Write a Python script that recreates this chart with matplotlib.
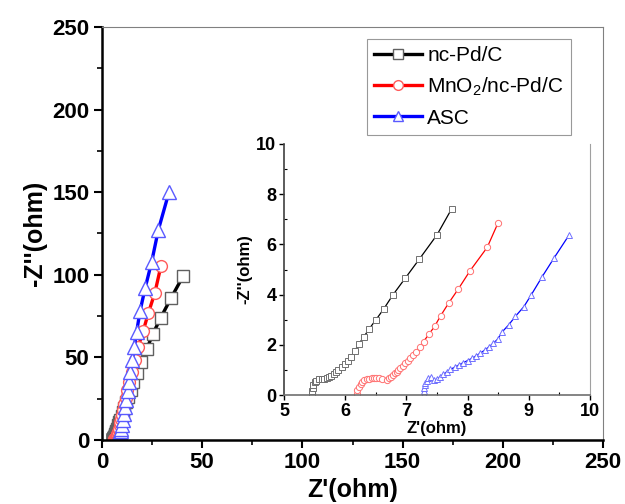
import matplotlib
matplotlib.use("Agg")
import matplotlib.pyplot as plt
import numpy as np

plt.rcParams['font.family'] = ['Liberation Sans', 'DejaVu Sans']
plt.rcParams['mathtext.fontset'] = 'custom'
plt.rcParams['mathtext.rm'] = 'Liberation Sans'

# ---- inset (high-frequency) data ----
pd_x_in = [5.45, 5.46, 5.47, 5.48, 5.50, 5.53, 5.57, 5.62, 5.66, 5.70, 5.73, 5.77,
           5.81, 5.85, 5.89, 5.94, 5.99, 6.04, 6.10, 6.16, 6.22, 6.30, 6.39, 6.50, 6.63,
           6.78, 6.98, 7.21, 7.50, 7.74]
pd_y_in = [0.05, 0.15, 0.28, 0.40, 0.50, 0.57, 0.62, 0.63, 0.64, 0.66, 0.70, 0.76, 0.82,
           0.90, 1.00, 1.10, 1.24, 1.37, 1.53, 1.77, 2.02, 2.30, 2.63, 2.99, 3.43, 3.99,
           4.65, 5.41, 6.38, 7.42]

mn_x_in = [6.19, 6.20, 6.22, 6.25, 6.28, 6.31, 6.35, 6.39, 6.43, 6.47, 6.51, 6.55, 6.60,
           6.69, 6.72, 6.75, 6.78, 6.81, 6.84, 6.87, 6.90, 6.94, 6.98, 7.02, 7.06, 7.11,
           7.16, 7.22, 7.28, 7.37, 7.46, 7.56, 7.69, 7.85, 8.04, 8.32, 8.50]
mn_y_in = [0.05, 0.18, 0.32, 0.44, 0.53, 0.59, 0.63, 0.65, 0.66, 0.66, 0.66, 0.66, 0.65,
           0.60, 0.66, 0.72, 0.79, 0.86, 0.93, 1.00, 1.08, 1.17, 1.27, 1.37, 1.47, 1.59,
           1.73, 1.90, 2.13, 2.43, 2.73, 3.16, 3.66, 4.23, 4.95, 5.88, 6.87]

asc_x_in = [7.28, 7.28, 7.29, 7.30, 7.31, 7.33, 7.36, 7.40, 7.45, 7.50, 7.55, 7.60, 7.66,
            7.72, 7.79, 7.86, 7.93, 8.00, 8.07, 8.14, 8.21, 8.28, 8.35, 8.42, 8.49, 8.56,
            8.67, 8.78, 8.92, 9.04, 9.22, 9.41, 9.66]
asc_y_in = [0.05, 0.15, 0.27, 0.38, 0.48, 0.57, 0.66, 0.72, 0.60, 0.62, 0.72, 0.82, 0.92,
            1.02, 1.11, 1.20, 1.29, 1.37, 1.46, 1.56, 1.67, 1.79, 1.92, 2.06, 2.22, 2.50,
            2.79, 3.13, 3.52, 3.99, 4.72, 5.45, 6.38]

# ---- additional low-frequency data (main plot) ----
pd_x_lo = [8.19, 8.64, 9.15, 9.75, 10.43, 11.19, 12.07, 13.09, 14.28, 15.6, 17.3, 19.5,
           22.3, 25.3, 29.3, 34.4, 40.6]
pd_y_lo = [9.0, 10.6, 12.4, 14.5, 16.9, 19.6, 22.7, 26.3, 30.5, 35.3, 40.7, 47.4,
           54.9, 64.0, 74.0, 85.8, 99.5]

mn_x_lo = [8.85, 9.19, 9.58, 10.03, 10.55, 11.16, 11.86, 12.67, 13.6, 15.1, 16.5, 18.1,
           20.6, 23.1, 26.4, 29.4]
mn_y_lo = [8.8, 10.7, 12.9, 15.4, 18.3, 21.7, 25.6, 30.1, 35.3, 41.3, 48.4, 56.5,
           66.2, 76.7, 89.2, 105.3]

asc_x_lo = [10.02, 10.45, 10.92, 11.46, 12.05, 12.73, 13.5, 14.0, 15.1, 16.1, 17.3, 19.0,
            21.5, 24.8, 28.1, 33.4]
asc_y_lo = [9.1, 12.3, 15.9, 19.9, 24.4, 29.5, 35.3, 41.3, 48.4, 56.5, 65.6, 78.1,
            91.8, 107.9, 127.1, 149.9]

labels = ['nc-Pd/C', r'MnO$_2$/nc-Pd/C', 'ASC']

fig = plt.figure(figsize=(6.25, 5.04), dpi=100)
ax = fig.add_axes([102/625, 64/504, 501/625, 413/504])

series = [
    (pd_x_in + pd_x_lo, pd_y_in + pd_y_lo, 'black', '#606060', 's', 8.0),
    (mn_x_in + mn_x_lo, mn_y_in + mn_y_lo, 'red', '#ff5a5a', 'o', 8.5),
    (asc_x_in + asc_x_lo, asc_y_in + asc_y_lo, 'blue', '#5a5aff', '^', 9.5),
]
for (xs, ys, lc, mc, m, ms), lab in zip(series, labels):
    ax.plot(xs, ys, color=lc, lw=2.4, marker=m, ms=ms, mfc='white', mec=mc,
            mew=1.0, label=lab)

ax.set_xlim(0, 250)
ax.set_ylim(0, 250)
ax.set_xticks([0, 50, 100, 150, 200, 250])
ax.set_yticks([0, 50, 100, 150, 200, 250])
ax.set_xticks(np.arange(25, 250, 50), minor=True)
ax.set_yticks(np.arange(25, 250, 50), minor=True)
ax.tick_params(which='major', direction='out', length=6, width=1.5, labelsize=16, pad=3)
ax.tick_params(which='minor', direction='out', length=3.5, width=1.2)
for lab in ax.get_xticklabels() + ax.get_yticklabels():
    lab.set_fontweight('bold')
ax.spines['left'].set_linewidth(1.8)
ax.spines['bottom'].set_linewidth(1.8)
for s in ('top', 'right'):
    ax.spines[s].set_color('#808080')
    ax.spines[s].set_linewidth(0.8)
ax.set_xlabel("Z'(ohm)", fontsize=18, fontweight='bold', labelpad=3)
ax.set_ylabel("-Z''(ohm)", fontsize=18, fontweight='bold', labelpad=4)

leg = ax.legend(loc='upper left', bbox_to_anchor=(265/501, 1 - 12/413), fontsize=15,
                frameon=True, fancybox=False, edgecolor='#808080', handlelength=2.3,
                handletextpad=0.25, labelspacing=0.5, borderpad=0.35, borderaxespad=0)
leg.get_frame().set_linewidth(0.8)
for h in leg.legend_handles:
    h.set_markersize(7)

# ---- inset ----
ins = fig.add_axes([284/625, (504-395)/504, 306/625, 251/504])
ins_series = [
    (pd_x_in, pd_y_in, 'black', '#707070', 's', 4.0),
    (mn_x_in, mn_y_in, 'red', '#ff7070', 'o', 4.5),
    (asc_x_in, asc_y_in, 'blue', '#7070ff', '^', 5.0),
]
for xs, ys, lc, mc, m, ms in ins_series:
    ins.plot(xs, ys, color=lc, lw=0.9, marker=m, ms=ms, mfc='white', mec=mc, mew=0.7)
ins.set_xlim(5, 10)
ins.set_ylim(0, 10)
ins.set_xticks([5, 6, 7, 8, 9, 10])
ins.set_yticks([0, 2, 4, 6, 8, 10])
ins.set_xticks(np.arange(5.5, 10, 1), minor=True)
ins.set_yticks(np.arange(1, 10, 2), minor=True)
ins.tick_params(which='major', direction='out', length=3.5, width=1.0, labelsize=13, pad=2)
ins.tick_params(which='minor', direction='in', length=2.5, width=0.8)
for lab in ins.get_xticklabels() + ins.get_yticklabels():
    lab.set_fontweight('bold')
ins.spines['top'].set_visible(False)
ins.spines['right'].set_color('#a0a0a0')
ins.spines['right'].set_linewidth(0.8)
ins.spines['left'].set_color('#404040')
ins.spines['bottom'].set_color('#707070')
ins.spines['left'].set_linewidth(1.2)
ins.spines['bottom'].set_linewidth(1.2)
ins.set_xlabel("Z'(ohm)", fontsize=12, fontweight='bold', labelpad=1)
ins.set_ylabel("-Z''(ohm)", fontsize=12, fontweight='bold', labelpad=3)
ins.patch.set_alpha(0)

fig.savefig('out.png', dpi=100)
